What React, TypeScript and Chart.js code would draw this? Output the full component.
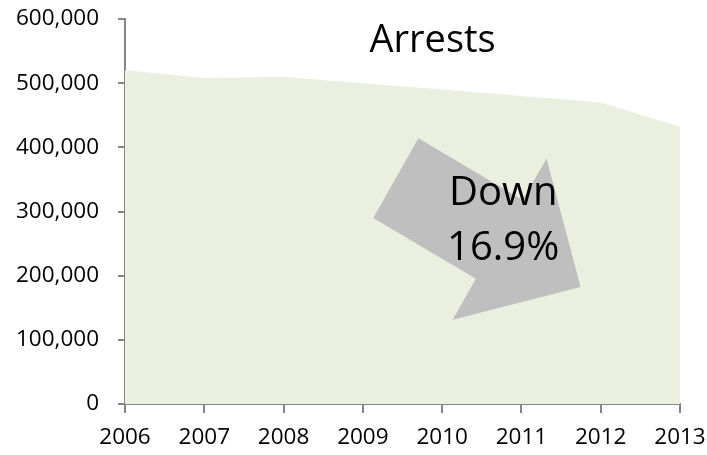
import React, { useEffect, useRef } from "react";
import { Chart, registerables } from "chart.js";

Chart.register(...registerables);

const years = ["2006", "2007", "2008", "2009", "2010", "2011", "2012", "2013"];
const arrests = [520000, 508000, 510000, 500000, 490000, 480000, 470000, 432000];
const yTicks = [0, 100000, 200000, 300000, 400000, 500000, 600000];
const titleText = "Arrests";
const noteLines = ["Down", "16.9%"];
// arrow outline in data units: [category index, value]
const arrowIdx = [3.7, 5.014, 5.317, 5.746, 4.132, 4.426, 3.131];
const arrowVal = [414200, 318100, 382200, 182400, 131300, 195200, 289700];

const FONT = "'Open Sans', 'Noto Sans', sans-serif";

export default function App() {
  const ref = useRef<HTMLCanvasElement | null>(null);
  useEffect(() => {
    if (!ref.current) return;
    const annot = {
      id: "annot",
      afterDatasetsDraw(chart: any) {
        const ctx = chart.ctx;
        const xs = chart.scales.x;
        const ys = chart.scales.y;
        ctx.save();
        ctx.beginPath();
        arrowIdx.forEach((ix, i) => {
          const px = xs.getPixelForValue(ix);
          const py = ys.getPixelForValue(arrowVal[i]);
          if (i === 0) ctx.moveTo(px, py);
          else ctx.lineTo(px, py);
        });
        ctx.closePath();
        ctx.fillStyle = "#BFBFBF";
        ctx.fill();
        ctx.fillStyle = "#000";
        ctx.textAlign = "center";
        ctx.textBaseline = "alphabetic";
        ctx.font = `40px ${FONT}`;
        ctx.fillText(noteLines[0], xs.getPixelForValue(4.77), ys.getPixelForValue(310000));
        ctx.fillText(noteLines[1], xs.getPixelForValue(4.77), ys.getPixelForValue(224800));
        ctx.font = `38px ${FONT}`;
        ctx.fillText(titleText, xs.getPixelForValue(3.88), ys.getPixelForValue(548000));
        ctx.restore();
      },
    };
    const chart = new Chart(ref.current, {
      type: "line",
      data: {
        labels: years,
        datasets: [
          {
            data: arrests,
            fill: "origin",
            backgroundColor: "#EBEFDF",
            borderWidth: 0,
            borderColor: "rgba(0,0,0,0)",
            pointRadius: 0,
            tension: 0,
          },
        ],
      },
      options: {
        animation: false,
        responsive: false,
        layout: { padding: { top: 19, right: 27, left: 0, bottom: 0 } },
        plugins: { legend: { display: false }, tooltip: { enabled: false }, title: { display: false } },
        scales: {
          x: {
            offset: false,
            afterFit: (s: any) => {
              s.height = 51;
              s.paddingLeft = 0;
              s.paddingRight = 0;
            },
            grid: { drawOnChartArea: false, drawTicks: true, tickLength: 9, color: "#868686", lineWidth: 2 },
            border: { display: true, color: "#868686", width: 2 },
            ticks: { color: "#000", font: { family: FONT, size: 22.5 }, padding: 11, maxRotation: 0, autoSkip: false },
          },
          y: {
            min: 0,
            max: 600000,
            afterFit: (s: any) => {
              s.width = 125;
              s.paddingTop = 0;
              s.paddingBottom = 0;
            },
            afterBuildTicks: (s: any) => {
              s.ticks = yTicks.map((v) => ({ value: v }));
            },
            grid: { drawOnChartArea: false, drawTicks: true, tickLength: 7, color: "#868686", lineWidth: 2 },
            border: { display: true, color: "#868686", width: 2 },
            ticks: {
              color: "#000",
              font: { family: FONT, size: 22.5 },
              padding: 19,
              callback: (v: any) => Number(v).toLocaleString("en-US"),
            },
          },
        },
      },
      plugins: [annot],
    });
    return () => chart.destroy();
  }, []);
  return (
    <div style={{ position: "fixed", left: 0, top: 0, width: 707, height: 455, background: "#fff" }}>
      <canvas ref={ref} width={707} height={455} style={{ width: 707, height: 455 }} />
    </div>
  );
}
